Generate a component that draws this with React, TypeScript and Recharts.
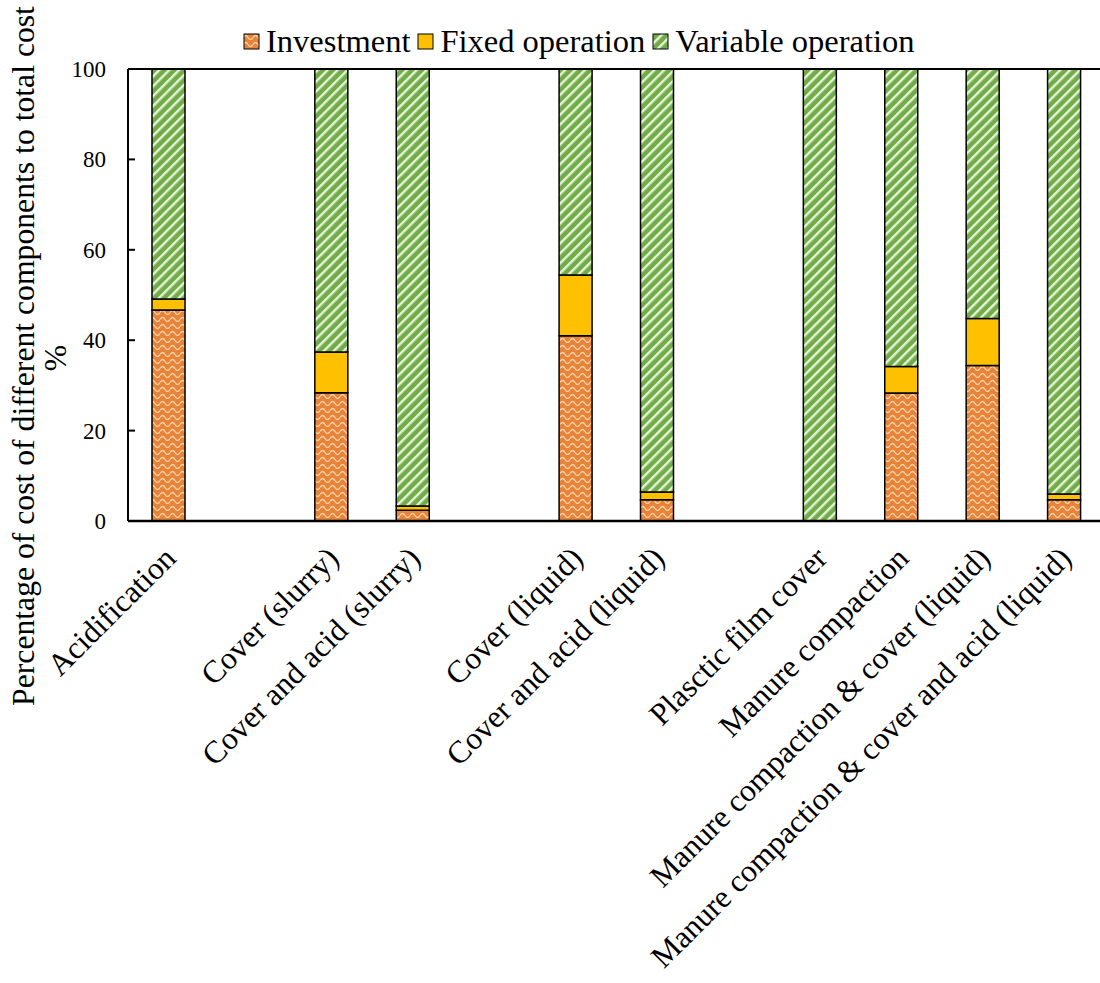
import { BarChart, Bar, XAxis, YAxis, Legend, ReferenceLine } from 'recharts';

const FONT = '"Times New Roman", "Liberation Serif", "DejaVu Serif", serif';

// categories (blank entries are the empty gaps between groups)
const categories = [
  'Acidification',
  ' ',
  'Cover (slurry)',
  'Cover and acid (slurry)',
  '  ',
  'Cover (liquid)',
  'Cover and acid (liquid)',
  '   ',
  'Plasctic film cover',
  'Manure compaction',
  'Manure compaction & cover (liquid)',
  'Manure compaction & cover and acid (liquid)',
];

// % of total cost
const investment = [46.7, null, 28.4, 2.4, null, 41.0, 4.7, null, 0, 28.3, 34.4, 4.7];
const fixedOperation = [2.4, null, 9.0, 0.9, null, 13.4, 1.7, null, 0, 5.9, 10.4, 1.3];
const variableOperation = [50.9, null, 62.6, 96.7, null, 45.6, 93.6, null, 100, 65.8, 55.2, 94.0];

const yTicks = [0, 20, 40, 60, 80, 100];

const seriesInfo = [
  { key: 'investment', name: 'Investment', fill: 'url(#wavePattern)' },
  { key: 'fixed', name: 'Fixed operation', fill: '#FFC000' },
  { key: 'variable', name: 'Variable operation', fill: 'url(#stripePattern)' },
];

const data = categories.map((name, i) => ({
  name,
  investment: investment[i],
  fixed: fixedOperation[i],
  variable: variableOperation[i],
}));

const textStyle = { fontFamily: FONT };

const XTick = (props: any) => {
  const { x, y, payload } = props;
  const tx = x + 9;
  const ty = y + 39;
  return (
    <text
      x={tx}
      y={ty}
      transform={`rotate(-45 ${tx} ${ty})`}
      textAnchor="end"
      fontSize={31.5}
      style={textStyle}
      fill="#000"
    >
      {String(payload.value).trim()}
    </text>
  );
};

const YTick = (props: any) => {
  const { x, y, payload } = props;
  return (
    <g>
      <line x1={x} x2={x + 7} y1={y} y2={y} stroke="#000" strokeWidth={2} />
      <text x={x - 22} y={y} dy="0.35em" textAnchor="end" fontSize={23} style={textStyle} fill="#000">
        {payload.value}
      </text>
    </g>
  );
};

// two-line axis title, rotated
const YTitle = () => (
  <g fontSize={31.7} fill="#000" style={textStyle}>
    <text x={34} y={356} transform="rotate(-90 34 356)" textAnchor="middle" style={textStyle}>
      Percentage of cost of different components to total cost
    </text>
    <text x={66} y={358} transform="rotate(-90 66 358)" textAnchor="middle" style={textStyle}>
      %
    </text>
  </g>
);

const LegendContent = () => (
  <div
    style={{
      display: 'flex',
      alignItems: 'center',
      whiteSpace: 'nowrap',
      fontFamily: FONT,
      fontSize: 32.5,
      lineHeight: '36px',
      color: '#000',
    }}
  >
    {seriesInfo.map((s) => (
      <div key={s.key} style={{ display: 'flex', alignItems: 'center', marginRight: 7 }}>
        <svg width={17} height={17} style={{ marginRight: 6 }}>
          <rect x={1} y={1} width={15} height={15} fill={s.fill} stroke="#000" strokeWidth={1} />
        </svg>
        <span>{s.name}</span>
      </div>
    ))}
  </div>
);

export default function App() {
  return (
    <div
      style={{
        position: 'absolute',
        left: 0,
        top: 0,
        width: 1100,
        height: 983,
        overflow: 'hidden',
        background: '#fff',
        fontFamily: FONT,
      }}
    >
      <svg width={0} height={0} style={{ position: 'absolute' }}>
        <defs>
          <pattern id="wavePattern" patternUnits="userSpaceOnUse" width={10} height={7}>
            <rect width={10} height={7} fill="#E8833A" />
            <path d="M0 4.5 Q2.5 0.5 5 4.5 T10 4.5" fill="none" stroke="#F7D2A6" strokeWidth={1.3} />
          </pattern>
          <pattern
            id="stripePattern"
            patternUnits="userSpaceOnUse"
            width={7}
            height={7}
            patternTransform="rotate(45)"
          >
            <rect width={7} height={7} fill="#72AC4A" />
            <rect x={0} y={0} width={2.4} height={7} fill="#E6F6D6" />
          </pattern>
        </defs>
      </svg>
      <BarChart
        width={1130}
        height={983}
        data={data}
        margin={{ top: 69, right: 25, left: 48, bottom: 22 }}
        barSize={33}
        style={{ fontFamily: FONT }}
      >
        <XAxis
          dataKey="name"
          interval={0}
          height={440}
          tickSize={0}
          tickMargin={0}
          tickLine={false}
          axisLine={{ stroke: '#000', strokeWidth: 2.5 }}
          tick={<XTick />}
        />
        <YAxis
          domain={[0, 100]}
          ticks={yTicks}
          width={80}
          tickSize={0}
          tickMargin={0}
          tickLine={false}
          axisLine={{ stroke: '#000', strokeWidth: 2 }}
          tick={<YTick />}
          label={<YTitle />}
        />
        <ReferenceLine y={100} stroke="#000" strokeWidth={2} />
        <Legend
          verticalAlign="middle"
          align="center"
          layout="horizontal"
          content={<LegendContent />}
          wrapperStyle={{ top: 23, left: 243, width: 'auto', height: 'auto' }}
        />
        {seriesInfo.map((s) => (
          <Bar
            key={s.key}
            dataKey={s.key}
            name={s.name}
            stackId="cost"
            fill={s.fill}
            stroke="#000"
            strokeWidth={1.5}
            isAnimationActive={false}
          />
        ))}
      </BarChart>
    </div>
  );
}
